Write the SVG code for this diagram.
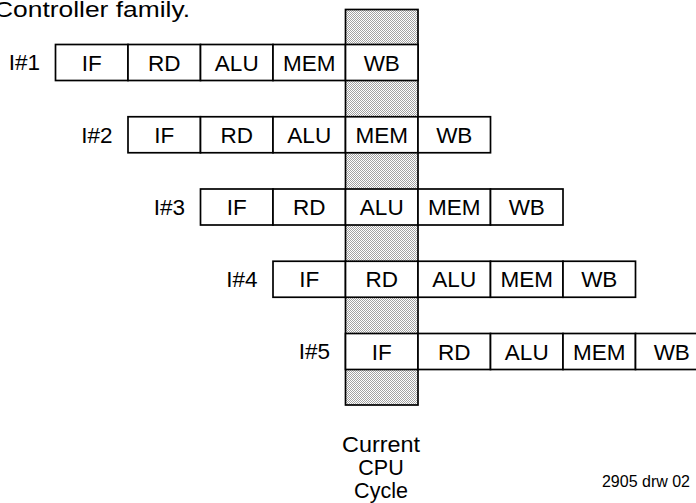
<svg xmlns="http://www.w3.org/2000/svg" width="696" height="503" viewBox="0 0 696 503">
<defs>
<pattern id="stip" width="2" height="2" patternUnits="userSpaceOnUse">
<rect width="2" height="2" fill="#ffffff"/>
<rect x="0" y="0" width="1" height="1" fill="#a2a2a2"/>
<rect x="1" y="1" width="1" height="1" fill="#a2a2a2"/>
</pattern>
<style>
.cell{fill:#ffffff;stroke:#000000;stroke-width:1.7}
.col{fill:url(#stip);stroke:#000000;stroke-width:1.7}
.t{font-family:"Liberation Sans",Arial,sans-serif;font-size:22.5px;fill:#000000;text-anchor:middle}
.lab{font-family:"Liberation Sans",Arial,sans-serif;font-size:22.5px;fill:#000000;text-anchor:end}
.cap{font-family:"Liberation Sans",Arial,sans-serif;font-size:21.5px;fill:#000000;text-anchor:middle}
.note{font-family:"Liberation Sans",Arial,sans-serif;font-size:16px;fill:#000000;text-anchor:end}
</style>
</defs>
<rect width="696" height="503" fill="#ffffff"/>
<text x="-6" y="17" font-family="'Liberation Sans',Arial,sans-serif" font-size="22" textLength="196" lengthAdjust="spacingAndGlyphs">Controller family.</text>

<g id="current-cycle-column">
<rect class="col" x="345.5" y="9.5" width="72.5" height="395.5"/>
</g>

<g id="instr1">
<text class="lab" x="40" y="70">I#1</text>
<rect class="cell" x="55.5" y="44.5" width="72.5" height="36"/>
<rect class="cell" x="128" y="44.5" width="72.5" height="36"/>
<rect class="cell" x="200.5" y="44.5" width="72.5" height="36"/>
<rect class="cell" x="273" y="44.5" width="72.5" height="36"/>
<rect class="cell" x="345.5" y="44.5" width="72.5" height="36"/>
<text class="t" x="91.75" y="70.5">IF</text>
<text class="t" x="164.25" y="70.5">RD</text>
<text class="t" x="236.75" y="70.5">ALU</text>
<text class="t" x="309.25" y="70.5">MEM</text>
<text class="t" x="381.75" y="70.5">WB</text>
</g>

<g id="instr2">
<text class="lab" x="112.5" y="142.5">I#2</text>
<rect class="cell" x="128" y="116.75" width="72.5" height="36"/>
<rect class="cell" x="200.5" y="116.75" width="72.5" height="36"/>
<rect class="cell" x="273" y="116.75" width="72.5" height="36"/>
<rect class="cell" x="345.5" y="116.75" width="72.5" height="36"/>
<rect class="cell" x="418" y="116.75" width="72.5" height="36"/>
<text class="t" x="164.25" y="142.75">IF</text>
<text class="t" x="236.75" y="142.75">RD</text>
<text class="t" x="309.25" y="142.75">ALU</text>
<text class="t" x="381.75" y="142.75">MEM</text>
<text class="t" x="454.25" y="142.75">WB</text>
</g>

<g id="instr3">
<text class="lab" x="185" y="214.75">I#3</text>
<rect class="cell" x="200.5" y="189" width="72.5" height="36"/>
<rect class="cell" x="273" y="189" width="72.5" height="36"/>
<rect class="cell" x="345.5" y="189" width="72.5" height="36"/>
<rect class="cell" x="418" y="189" width="72.5" height="36"/>
<rect class="cell" x="490.5" y="189" width="72.5" height="36"/>
<text class="t" x="236.75" y="215">IF</text>
<text class="t" x="309.25" y="215">RD</text>
<text class="t" x="381.75" y="215">ALU</text>
<text class="t" x="454.25" y="215">MEM</text>
<text class="t" x="526.75" y="215">WB</text>
</g>

<g id="instr4">
<text class="lab" x="257.5" y="287">I#4</text>
<rect class="cell" x="273" y="261.25" width="72.5" height="36"/>
<rect class="cell" x="345.5" y="261.25" width="72.5" height="36"/>
<rect class="cell" x="418" y="261.25" width="72.5" height="36"/>
<rect class="cell" x="490.5" y="261.25" width="72.5" height="36"/>
<rect class="cell" x="563" y="261.25" width="72.5" height="36"/>
<text class="t" x="309.25" y="287.25">IF</text>
<text class="t" x="381.75" y="287.25">RD</text>
<text class="t" x="454.25" y="287.25">ALU</text>
<text class="t" x="526.75" y="287.25">MEM</text>
<text class="t" x="599.25" y="287.25">WB</text>
</g>

<g id="instr5">
<text class="lab" x="330" y="359.25">I#5</text>
<rect class="cell" x="345.5" y="333.5" width="72.5" height="36"/>
<rect class="cell" x="418" y="333.5" width="72.5" height="36"/>
<rect class="cell" x="490.5" y="333.5" width="72.5" height="36"/>
<rect class="cell" x="563" y="333.5" width="72.5" height="36"/>
<rect class="cell" x="635.5" y="333.5" width="72.5" height="36"/>
<text class="t" x="381.75" y="359.5">IF</text>
<text class="t" x="454.25" y="359.5">RD</text>
<text class="t" x="526.75" y="359.5">ALU</text>
<text class="t" x="599.25" y="359.5">MEM</text>
<text class="t" x="671.75" y="359.5">WB</text>
</g>

<g id="caption">
<text class="cap" x="381" y="452" textLength="78" lengthAdjust="spacingAndGlyphs">Current</text>
<text class="cap" x="381" y="475">CPU</text>
<text class="cap" x="381" y="498">Cycle</text>
</g>
<text class="note" x="690" y="487">2905 drw 02</text>
</svg>
